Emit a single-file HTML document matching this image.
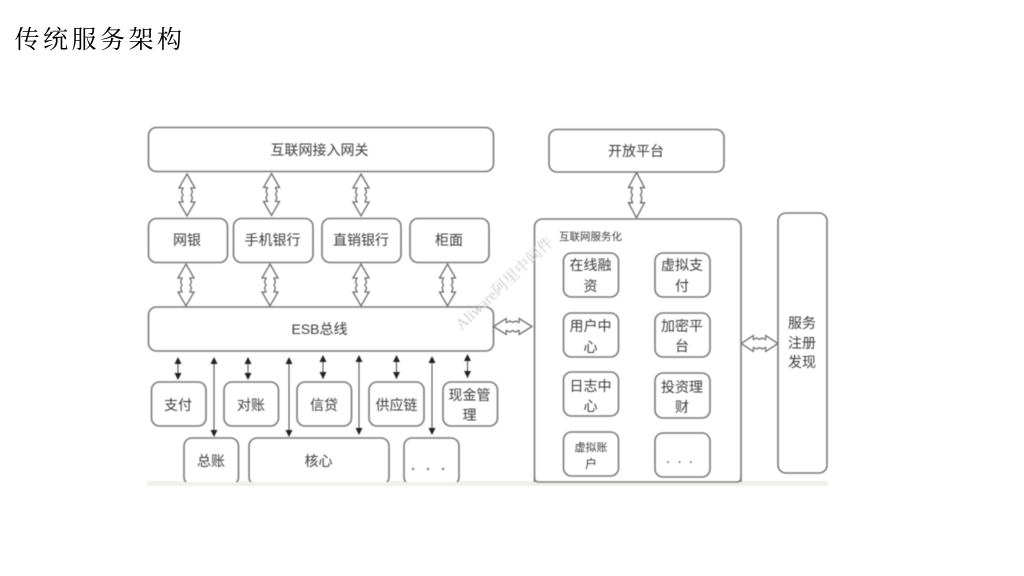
<!DOCTYPE html>
<html lang="zh">
<head>
<meta charset="utf-8">
<title>传统服务架构</title>
<style>
html,body{margin:0;padding:0;background:#fff;}
body{width:1024px;height:576px;overflow:hidden;position:relative;}
svg{position:absolute;left:0;top:0;}
#d{filter:blur(0.55px);}
.b{fill:#fff;stroke:#7a7a7a;stroke-width:1.6;}
.a{fill:#fff;stroke:#6e6e6e;stroke-width:1.3;stroke-linejoin:miter;}
.l{stroke:#555;stroke-width:1.1;fill:none;}
.h{fill:#222;}
text{font-family:"Liberation Sans","Noto Sans CJK SC",sans-serif;fill:#3c3c3c;text-anchor:middle;font-size:14px;}
</style>
</head>
<body>
<svg width="1024" height="576" viewBox="0 0 1024 576" xmlns="http://www.w3.org/2000/svg">
<defs>
<path id="da" d="M0,0 L8,14 L4,14 L5.500,18 L4,21 L5.500,24 L4,28 L8,28 L0,42 L-8,28 L-4,28 L-5.500,24 L-4,21 L-5.500,18 L-4,14 L-8,14 Z"/>
<g id="up"><path class="h" d="M0,0 L3.5,7 L-3.5,7 Z"/></g>
<g id="dn"><path class="h" d="M0,0 L3.5,-7 L-3.5,-7 Z"/></g>
</defs>
<text x="100" y="48" style="font-family:'Noto Serif CJK SC',serif;font-size:25px;letter-spacing:3.500px;fill:#000">传统服务架构</text>
<g id="d">
<rect x="147" y="126" width="681" height="355" fill="#fff"/>
<rect x="147" y="481" width="681" height="5" fill="#f2f0ea"/>
<rect class="b" x="148.500" y="127.500" width="345" height="44" rx="8"/>
<text x="319.500" y="155">互联网接入网关</text>
<rect class="b" x="148.500" y="218.500" width="79" height="44" rx="8"/>
<text x="187" y="245">网银</text>
<rect class="b" x="233.500" y="218.500" width="79.500" height="44" rx="8"/>
<text x="272.500" y="245">手机银行</text>
<rect class="b" x="322" y="218.500" width="79" height="44" rx="8"/>
<text x="361" y="245">直销银行</text>
<rect class="b" x="410" y="218.500" width="79" height="44" rx="8"/>
<text x="449" y="245">柜面</text>
<rect class="b" x="148.500" y="307" width="345" height="44" rx="8"/>
<text x="319.500" y="334">ESB总线</text>
<use href="#da" class="a" transform="translate(187,174)"/>
<use href="#da" class="a" transform="translate(271.500,173.500)"/>
<use href="#da" class="a" transform="translate(361,174)"/>
<use href="#da" class="a" transform="translate(186,264)"/>
<use href="#da" class="a" transform="translate(270,264)"/>
<use href="#da" class="a" transform="translate(361,264)"/>
<use href="#da" class="a" transform="translate(447.500,264)"/>
<use href="#da" class="a" transform="translate(636.500,172.500) scale(1,1.08)"/>
<use href="#da" class="a" transform="translate(532,326.500) rotate(90) scale(1,0.92)"/>
<use href="#da" class="a" transform="translate(778,343.500) rotate(90) scale(1,0.88)"/>
<g class="l">
<path d="M178,358V379"/><path d="M214,358V436"/><path d="M248,358V379"/><path d="M289,358V436"/><path d="M323,356V379"/><path d="M359,356V434"/><path d="M396.500,356V379"/><path d="M432,357V434"/><path d="M467.500,355V378"/>
</g>
<use href="#up" transform="translate(178,357)"/><use href="#dn" transform="translate(178,380)"/>
<use href="#up" transform="translate(214,357)"/><use href="#dn" transform="translate(214,437)"/>
<use href="#up" transform="translate(248,357)"/><use href="#dn" transform="translate(248,380)"/>
<use href="#up" transform="translate(289,357)"/><use href="#dn" transform="translate(289,437)"/>
<use href="#up" transform="translate(323,355)"/><use href="#dn" transform="translate(323,379)"/>
<use href="#up" transform="translate(359,355)"/><use href="#dn" transform="translate(359,435)"/>
<use href="#up" transform="translate(396.500,355)"/><use href="#dn" transform="translate(396.500,379)"/>
<use href="#up" transform="translate(432,356)"/><use href="#dn" transform="translate(432,435)"/>
<use href="#up" transform="translate(467.500,354)"/><use href="#dn" transform="translate(467.500,378)"/>
<rect class="b" x="151.500" y="382" width="54.500" height="44" rx="8"/>
<text x="178" y="410">支付</text>
<rect class="b" x="224" y="382" width="54.500" height="44" rx="8"/>
<text x="251" y="410">对账</text>
<rect class="b" x="297" y="382" width="54.500" height="44" rx="8"/>
<text x="324" y="410">信贷</text>
<rect class="b" x="369" y="382" width="55" height="44" rx="8"/>
<text x="396.500" y="410">供应链</text>
<rect class="b" x="443" y="382" width="54.500" height="44" rx="8"/>
<text x="469.500" y="400">现金管</text>
<text x="469.500" y="420">理</text>
<rect class="b" x="184" y="438" width="54.500" height="47" rx="8"/>
<text x="211" y="466">总账</text>
<rect class="b" x="249" y="438" width="140" height="47" rx="8"/>
<text x="318.500" y="466">核心</text>
<rect class="b" x="404" y="438" width="55" height="47" rx="8"/>
<text x="433.500" y="470" style="font-size:15px;letter-spacing:10.800px;font-weight:bold;fill:#777">...</text>
<rect x="147" y="482" width="681" height="4" fill="#f2f0ea"/>
<rect class="b" x="549" y="129.500" width="175" height="42.500" rx="8"/>
<text x="636" y="156">开放平台</text>
<path class="b" d="M534.500,484V227a8,8 0 0 1 8,-8H733a8,8 0 0 1 8,8V484Z"/>
<rect x="530" y="482" width="215" height="4" fill="#f2f0ea"/>
<path d="M534.500,476V478a4,4 0 0 0 4,4H737a4,4 0 0 0 4,-4V476" fill="none" stroke="#7f7f7f" stroke-width="1.6"/>
<text x="590.500" y="240" style="font-size:10.500px">互联网服务化</text>
<rect class="b" x="563.500" y="253" width="55" height="44" rx="8"/>
<text x="590.500" y="270">在线融</text><text x="590.500" y="291">资</text>
<rect class="b" x="655" y="253" width="55" height="44" rx="8"/>
<text x="682" y="270">虚拟支</text><text x="682" y="291">付</text>
<rect class="b" x="563.500" y="313" width="55" height="44" rx="8"/>
<text x="590.500" y="331">用户中</text><text x="590.500" y="352">心</text>
<rect class="b" x="655" y="313" width="55" height="44" rx="8"/>
<text x="682" y="331">加密平</text><text x="682" y="351">台</text>
<rect class="b" x="563.500" y="372" width="55" height="44" rx="8"/>
<text x="590.500" y="391">日志中</text><text x="590.500" y="411">心</text>
<rect class="b" x="655" y="373" width="55" height="45" rx="8"/>
<text x="682" y="392">投资理</text><text x="682" y="412">财</text>
<rect class="b" x="563.500" y="432" width="55" height="44" rx="8"/>
<text x="591" y="451" style="font-size:11px">虚拟账</text><text x="591" y="468" style="font-size:12px">户</text>
<rect class="b" x="655" y="433" width="55" height="44" rx="8"/>
<text x="683.500" y="463" style="font-size:12px;letter-spacing:8px;font-weight:bold;fill:#777">...</text>
<rect class="b" x="778" y="213" width="49" height="260" rx="8"/>
<text x="802" y="328">服务</text><text x="802" y="348">注册</text><text x="802" y="367">发现</text>
<text transform="translate(508,287) rotate(-43)" style="font-family:'Liberation Serif','Noto Serif CJK SC',serif;font-size:15.500px;fill:#cfcfcf">Aliware阿里中间件</text>
</g>
</svg>
</body>
</html>
